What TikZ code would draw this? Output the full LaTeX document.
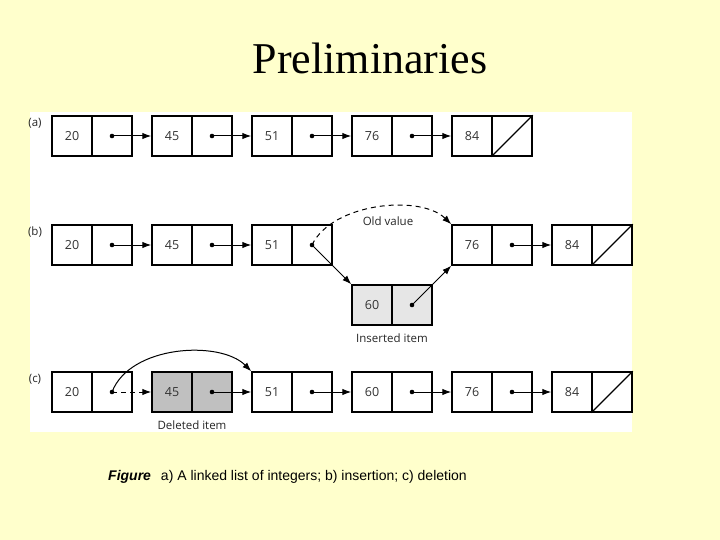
\documentclass[tikz,border=0pt]{standalone}
\usepackage{fontspec}
\setmainfont{Liberation Serif}
\newfontfamily\diagfont{Open Sans}
\newfontfamily\capfont{Liberation Sans}
\usetikzlibrary{arrows.meta}
\definecolor{bgyellow}{HTML}{FFFFCC}
\definecolor{insgray}{HTML}{E6E6E6}
\definecolor{delgray}{HTML}{C0C0C0}
\tikzset{
  cell/.style={draw=black, line width=1.5pt, minimum width=40pt, minimum height=40pt, inner sep=0pt, font=\diagfont\fontsize{12.5}{12}\selectfont, text=black!80},
  ptr/.style={line width=1pt, -{Latex[length=9pt,width=6.5pt]}},
  dashedline/.style={dash pattern=on 5pt off 4pt},
  lbl/.style={font=\diagfont\fontsize{11.5}{12}\selectfont, text=black!85, inner sep=0pt},
  dot/.style={fill=black}
}
\newcommand\listitem[5]{% name, x, y, value, fill
  \node[cell, fill=#5] (#1d) at (#2,#3) {#4};
  \node[cell, fill=#5] (#1p) at (#2+40,#3) {};
}
\newcommand\ptrdot[1]{\fill[dot] (#1p.center) circle (2.3pt);}
\newcommand\nullptr[1]{\draw[line width=1.3pt] (#1p.south west) -- (#1p.north east);}
\begin{document}
\begin{tikzpicture}[x=1pt,y=-1pt]
\fill[bgyellow] (0,0) rectangle (720,540);
\useasboundingbox (0,0) rectangle (720,540);
\fill[white] (30,112) rectangle (632,432);
\node[anchor=base, font=\fontsize{44}{44}\selectfont, inner sep=0pt] (title) at (370,74) {Preliminaries};

% row labels
\node[lbl] (la) at (35,123) {(a)};
\node[lbl] (lb) at (35,232) {(b)};
\node[lbl] (lc) at (35,379) {(c)};

% (a)
\listitem{a1}{72}{136}{20}{white}
\listitem{a2}{172}{136}{45}{white}
\listitem{a3}{272}{136}{51}{white}
\listitem{a4}{372}{136}{76}{white}
\listitem{a5}{472}{136}{84}{white}
\foreach \i in {1,...,4} {\ptrdot{a\i}}
\nullptr{a5}
\draw[ptr] (a1p.center) -- (a2d.west);
\draw[ptr] (a2p.center) -- (a3d.west);
\draw[ptr] (a3p.center) -- (a4d.west);
\draw[ptr] (a4p.center) -- (a5d.west);

% (b)
\listitem{b1}{72}{245}{20}{white}
\listitem{b2}{172}{245}{45}{white}
\listitem{b3}{272}{245}{51}{white}
\listitem{b4}{472}{245}{76}{white}
\listitem{b5}{572}{245}{84}{white}
\listitem{bn}{372}{305}{60}{insgray}
\foreach \i in {1,...,4} {\ptrdot{b\i}}
\ptrdot{bn}
\nullptr{b5}
\draw[ptr] (b1p.center) -- (b2d.west);
\draw[ptr] (b2p.center) -- (b3d.west);
\draw[ptr] (b4p.center) -- (b5d.west);
\draw[ptr, dashedline] (b3p.center) .. controls (332,203) and (420,194) .. (b4d.north west);
\draw[ptr] (b3p.center) -- (bnd.north west);
\draw[ptr] (bnp.center) -- (b4d.south west);
\node[lbl] (oldv) at (388,221) {Old value};
\node[lbl] (insl) at (392,338) {Inserted item};

% (c)
\listitem{c1}{72}{392}{20}{white}
\listitem{c2}{172}{392}{45}{delgray}
\listitem{c3}{272}{392}{51}{white}
\listitem{c4}{372}{392}{60}{white}
\listitem{c5}{472}{392}{76}{white}
\listitem{c6}{572}{392}{84}{white}
\foreach \i in {1,...,5} {\ptrdot{c\i}}
\nullptr{c6}
\draw[ptr, dashedline] (c1p.center) -- (c2d.west);
\draw[ptr] (c1p.center) .. controls (130,345) and (220,340) .. (c3d.north west);
\draw[ptr] (c2p.center) -- (c3d.west);
\draw[ptr] (c3p.center) -- (c4d.west);
\draw[ptr] (c4p.center) -- (c5d.west);
\draw[ptr] (c5p.center) -- (c6d.west);
\node[lbl] (dell) at (192,425) {Deleted item};

% caption
\node[anchor=base west, inner sep=0pt, font=\capfont\fontsize{14}{14}\selectfont] (cap) at (108,480) {\textbf{\textit{Figure}}\hspace{10pt}a) A linked list of integers; b) insertion; c) deletion};
\end{tikzpicture}
\end{document}
